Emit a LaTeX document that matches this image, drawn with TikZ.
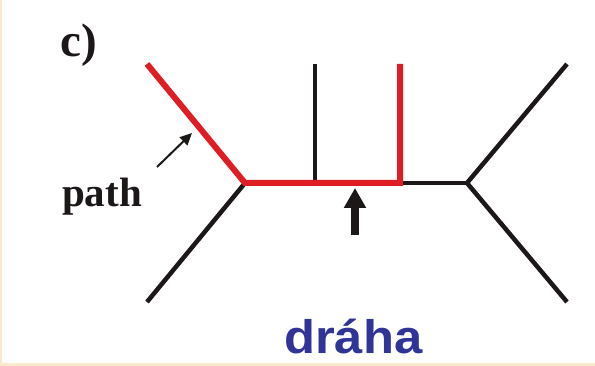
\documentclass[tikz,border=0pt]{standalone}
\usepackage{fontspec}
\setmainfont{Liberation Serif}
\newfontfamily\labelsans{Liberation Sans}
\usetikzlibrary{arrows.meta}
\definecolor{cream}{RGB}{250,234,205}
\definecolor{pathred}{RGB}{222,30,36}
\definecolor{drahablue}{RGB}{48,52,150}
\definecolor{inkblack}{RGB}{28,24,24}
\begin{document}
\begin{tikzpicture}[x=1pt,y=-1pt,
    branch/.style={line width=4.5pt,draw=inkblack},
    redpath/.style={line width=6pt,draw=pathred},
    serifbold/.style={font=\fontsize{41}{41}\selectfont\bfseries,text=inkblack,inner sep=0pt}]

        \fill[cream] (0,0) rectangle (595,366);
        \fill[white] (2,0) rectangle (595,363);
        \useasboundingbox (0,0) rectangle (595,366);

        \coordinate (L) at (245,183);
        \coordinate (M) at (315,183);
        \coordinate (T) at (400,183);
        \coordinate (R) at (467,183);
        \coordinate (a1) at (147,64);
        \coordinate (a2) at (147,302);
        \coordinate (b1) at (315,64);
        \coordinate (b2) at (400,64);
        \coordinate (c1) at (567,64);
        \coordinate (c2) at (567,302);

        \draw[branch] (a2) -- (L);
        \draw[branch] (b1) -- (M);
        \draw[branch] (T) -- (R);
        \draw[branch] (c1) -- (R) -- (c2);
        \draw[redpath] (a1) -- (L) -- (T) -- (b2);

        \coordinate (up1) at (355,235);
        \coordinate (up2) at (355,188);
        \draw[line width=8pt,draw=inkblack,-{Triangle[width=21pt,length=20pt]}] (up1) -- (up2);

        \node[serifbold,anchor=base west,font=\fontsize{47}{47}\selectfont\bfseries] (c) at (60,57) {c)};
        \node[serifbold,anchor=base west] (p) at (62,207) {path};
        \coordinate (pa) at (157,167);
        \coordinate (pb) at (192,133);
        \draw[line width=2pt,draw=inkblack,-{Triangle[width=11pt,length=12pt]}] (pa) -- (pb);

        \node[anchor=base west,inner sep=0pt,text=drahablue,xscale=1.08,
              font=\labelsans\fontsize{47}{47}\selectfont\bfseries] (d) at (284,353) {dráha};

\end{tikzpicture}
\end{document}
